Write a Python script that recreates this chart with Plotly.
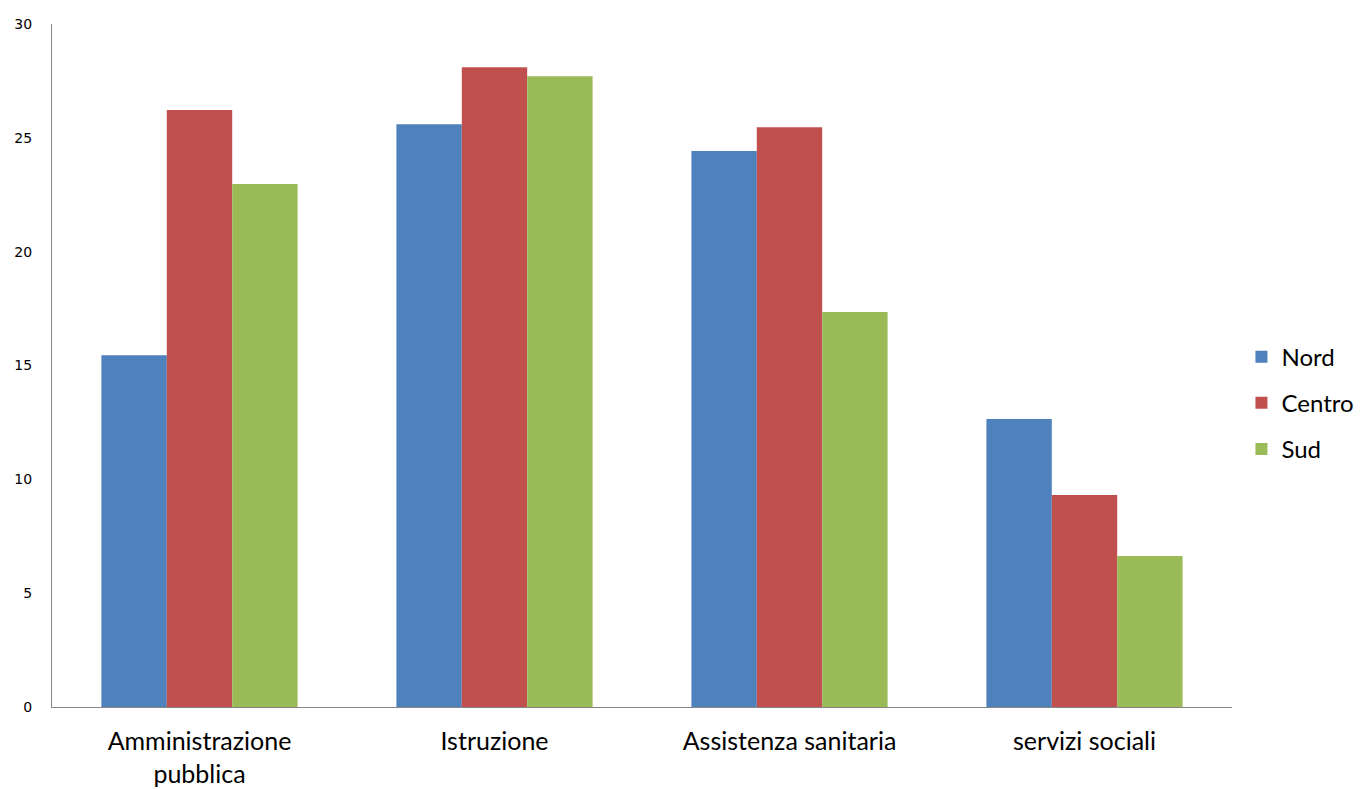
import plotly.graph_objects as go

categories = ["Amministrazione<br>pubblica", "Istruzione", "Assistenza sanitaria", "servizi sociali"]
nord = [15.45, 25.6, 24.42, 12.65]
centro = [26.22, 28.1, 25.47, 9.31]
sud = [22.97, 27.71, 17.35, 6.63]
y_ticks = [0, 5, 10, 15, 20, 25, 30]

fig = go.Figure()
for name, vals, col in [("Nord", nord, "#4F81BD"), ("Centro", centro, "#C0504D"), ("Sud", sud, "#9BBB59")]:
    fig.add_trace(go.Bar(name=name, x=categories, y=vals, legendgroup=name,
                         marker=dict(color=col, line=dict(width=0))))

fig.update_layout(
    width=1359, height=781,
    paper_bgcolor="white", plot_bgcolor="white",
    margin=dict(l=44, r=135, t=16, b=82, autoexpand=False),
    barmode="group", bargap=0.335, bargroupgap=0,
    showlegend=True,
    legend=dict(x=1.008, y=0.445, xanchor="left", yanchor="middle",
                font=dict(family="Lato, Open Sans, sans-serif", size=24, color="black"),
                tracegroupgap=12, itemsizing="constant", itemwidth=30),
    xaxis=dict(showline=True, linecolor="#868686", linewidth=1, ticks="", automargin=False,
               ticklabelstandoff=12,
               tickfont=dict(family="Lato, Open Sans, sans-serif", size=25, color="black"),
               showgrid=False),
    yaxis=dict(range=[0, 30], tickvals=y_ticks, showline=True, linecolor="#868686", linewidth=1,
               ticks="", showgrid=False, zeroline=False, automargin=False, ticklabelstandoff=16,
               tickfont=dict(family="DejaVu Sans, sans-serif", size=14, color="black")),
)
fig.write_html("out.html")
